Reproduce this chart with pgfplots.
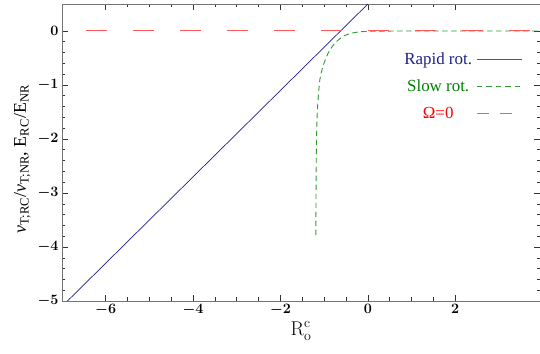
\documentclass[border=0pt]{standalone}
\usepackage{pgfplots}
\pgfplotsset{compat=1.18}
\usepackage{fontspec}
\newfontfamily\legfont{Liberation Serif}
\definecolor{navy}{rgb}{0.12,0.12,0.55}
\definecolor{lnavy}{rgb}{0.3,0.3,0.72}
\definecolor{dgreen}{rgb}{0.0,0.5,0.0}
\definecolor{lgreen}{rgb}{0.2,0.6,0.2}
\definecolor{lred}{rgb}{1,0.35,0.35}
\begin{document}
\begin{tikzpicture}
\begin{axis}[
  at={(0,0)}, anchor=south west,
  scale only axis, width=478bp, height=297bp,
  xmin=-7.0, xmax=3.94, ymin=-5, ymax=0.5,
  xtick={-6,-4,-2,0,2}, ytick={-5,-4,-3,-2,-1,0},
  minor x tick num=3, minor y tick num=4,
  major tick length=6bp, minor tick length=3.5bp,
  tick align=inside,
  axis line style={draw=black!55, line width=0.8pt},
  tick style={black!80, line width=0.6pt},
  tick label style={font=\boldmath\fontsize{15.5}{15.5}\selectfont},
  xlabel={$\mathrm{R}^{\mathrm{c}}_{\mathrm{o}}$},
  ylabel={\textit{ν}\textsubscript{T;RC}/\textit{ν}\textsubscript{T;NR},\ E\textsubscript{RC}/E\textsubscript{NR}},
  xlabel style={font=\fontsize{20}{20}\selectfont, at={(axis description cs:0.5,0)}, anchor=center, yshift=-30bp},
  ylabel style={font=\legfont\fontsize{18}{18}\selectfont, at={(axis description cs:-0.083,0.478)}, anchor=center},
  legend plot pos=right,
  legend cell align=center,
  legend style={draw=none, fill=none, at={(axis description cs:0.969,0.85)}, anchor=north east,
    font=\legfont\fontsize{17}{17}\selectfont, row sep=10bp,
    nodes={inner xsep=4bp}},
]
\addplot[navy, line width=0.7pt,
  legend image code/.code={\draw[lnavy, line width=0.8pt] (0bp,0bp) -- (45bp,0bp);}]
  coordinates {(-6.875,-5) (0,0.5)};
\addlegendentry{\textcolor{navy}{Rapid rot.}}
\addplot[lgreen, line width=0.9pt, dash pattern=on 5.5bp off 3.5bp, smooth, tension=0.4,
  legend image code/.code={\draw[lgreen, line width=0.9pt, dash pattern=on 5.5bp off 4bp] (0bp,0bp) -- (45bp,0bp);}]
  coordinates {
(-1.19,-3.78) (-1.186,-3.0) (-1.18,-2.33) (-1.17,-1.8) (-1.157,-1.5) (-1.14,-1.28)
(-1.10,-0.91) (-1.03,-0.66) (-0.91,-0.41) (-0.76,-0.23) (-0.57,-0.10) (-0.37,-0.04)
(-0.14,-0.012) (0.2,-0.003) (1,0) (3.94,0)};
\addlegendentry{\textcolor{dgreen}{Slow rot.}}
\addplot[lred, line width=1pt, dash pattern=on 21bp off 26bp, dash phase=23bp,
  legend image code/.code={\draw[lred, line width=1pt, dash pattern=on 12bp off 11bp] (0bp,0bp) -- (36bp,0bp);}]
  coordinates {(-7,0) (3.94,0)};
\addlegendentry{\textcolor{red}{Ω=0}}
\end{axis}
\pgfresetboundingbox
\path[use as bounding box] (-62bp,-53bp) rectangle (478bp,301bp);
\end{tikzpicture}
\end{document}
